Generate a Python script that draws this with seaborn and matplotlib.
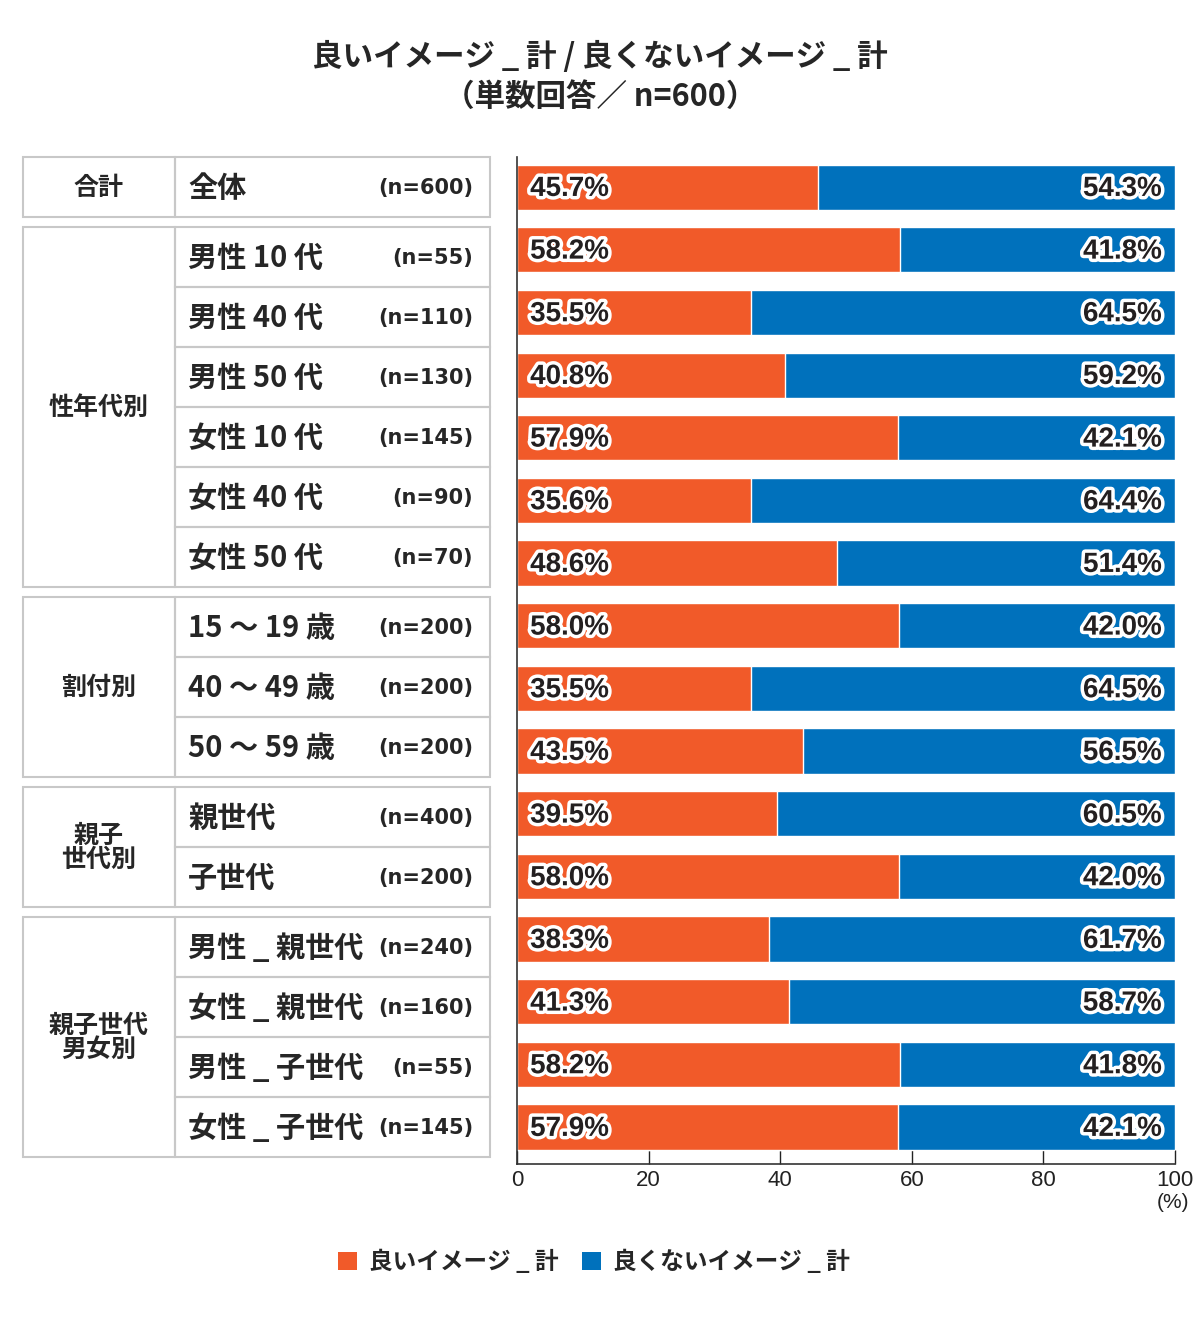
import matplotlib
matplotlib.use('Agg')
import matplotlib.pyplot as plt
import matplotlib.patheffects as pe
from matplotlib.patches import Patch, Rectangle
import seaborn as sns
import pandas as pd

#%% Data
groups = ['合計', '性年代別', '割付別', '親子\n世代別', '親子世代\n男女別']
group_sizes = [1, 6, 3, 2, 4]
items = ['全体', '男性 10 代', '男性 40 代', '男性 50 代', '女性 10 代', '女性 40 代', '女性 50 代',
         '15 ～ 19 歳', '40 ～ 49 歳', '50 ～ 59 歳', '親世代', '子世代',
         '男性 _ 親世代', '女性 _ 親世代', '男性 _ 子世代', '女性 _ 子世代']
n_labels = ['(n=600)', '(n=55)', '(n=110)', '(n=130)', '(n=145)', '(n=90)', '(n=70)',
            '(n=200)', '(n=200)', '(n=200)', '(n=400)', '(n=200)',
            '(n=240)', '(n=160)', '(n=55)', '(n=145)']
good = [45.7, 58.2, 35.5, 40.8, 57.9, 35.6, 48.6, 58.0, 35.5, 43.5, 39.5, 58.0, 38.3, 41.3, 58.2, 57.9]
bad = [54.3, 41.8, 64.5, 59.2, 42.1, 64.4, 51.4, 42.0, 64.5, 56.5, 60.5, 42.0, 61.7, 58.7, 41.8, 42.1]
series = ['良いイメージ _ 計', '良くないイメージ _ 計']
colors = ['#F15A29', '#0071BC']

df = pd.DataFrame({'row': range(len(items)), 'good': good, 'bad': bad})
df['total'] = df['good'] + df['bad']

#%% Style
sns.set_theme(style='white')
plt.rcParams['font.family'] = ['Noto Sans CJK JP', 'DejaVu Sans']
num_font = ['Liberation Sans', 'DejaVu Sans']

W, H = 1200, 1320
fig = plt.figure(figsize=(12, 13.2), dpi=100)

# overlay axes in pixel coordinates for table / title
tab = fig.add_axes([0, 0, 1, 1])
tab.set_xlim(0, W)
tab.set_ylim(H, 0)
tab.axis('off')

tab.text(600, 57, '良いイメージ _ 計 / 良くないイメージ _ 計', ha='center', va='center',
         fontsize=22, fontweight='bold')
tab.text(600, 97, '（単数回答／ n=600）', ha='center', va='center',
         fontsize=22, fontweight='bold')

# table on the left
edge = '#c8c8c8'
y = 157
k = 0
for g, size in zip(groups, group_sizes):
    top = y
    for i in range(size):
        tab.add_patch(Rectangle((175, y), 315, 60, fill=False, ec=edge, lw=1.5))
        tab.text(188, y + 31, items[k], ha='left', va='center', fontsize=21, fontweight='bold')
        tab.text(473, y + 31, n_labels[k], ha='right', va='center', fontsize=15,
                 fontweight='bold', family='DejaVu Sans')
        y += 60
        k += 1
    tab.add_patch(Rectangle((23, top), 152, y - top, fill=False, ec=edge, lw=1.5))
    tab.text(99, (top + y) / 2 + 1, g, ha='center', va='center', fontsize=18,
             fontweight='bold', linespacing=1.0)
    y += 10

#%% Bars
ax = fig.add_axes([517 / W, 1 - 1164 / H, 658 / W, 1007 / H])
ax.patch.set_alpha(0)
sns.barplot(data=df, x='total', y='row', orient='h', color=colors[1], width=0.72,
            saturation=1, ax=ax, order=range(len(items)))
sns.barplot(data=df, x='good', y='row', orient='h', color=colors[0], width=0.72,
            saturation=1, ax=ax, order=range(len(items)))

ax.set_xlim(0, 100)
ax.set_ylim(len(items) - 0.41, -0.48)
ax.set_xticks([0, 20, 40, 60, 80, 100])
ax.set_yticks([])
ax.set_xlabel('')
ax.set_ylabel('')
ax.tick_params(axis='x', direction='in', length=10, width=1, colors='#222222',
               labelsize=16, pad=4, bottom=True)
for lbl in ax.get_xticklabels():
    lbl.set_family(num_font)
for s in ['top', 'right']:
    ax.spines[s].set_visible(False)
for s in ['left', 'bottom']:
    ax.spines[s].set_color('#333333')
    ax.spines[s].set_linewidth(1.2)

outline = [pe.withStroke(linewidth=5, foreground='white')]
for i, (g_val, b_val) in enumerate(zip(good, bad)):
    ax.text(2, i + 0.03, f'{g_val:.1f}%', ha='left', va='center', fontsize=20,
            fontweight='bold', family=num_font, color='#231f20', path_effects=outline)
    ax.text(98, i + 0.03, f'{b_val:.1f}%', ha='right', va='center', fontsize=20,
            fontweight='bold', family=num_font, color='#231f20', path_effects=outline)

tab.text(1173, 1203, '(%)', ha='center', va='center', fontsize=15, color='#222222',
         family=num_font)

#%% Legend
handles = [Patch(facecolor=c, edgecolor='none') for c in colors]
fig.legend(handles, series, loc='center', bbox_to_anchor=(0.495, 1 - 1262 / H), ncol=2,
           frameon=False, handlelength=0.8, handleheight=0.8, handletextpad=0.5,
           columnspacing=1.0, prop={'size': 17, 'weight': 'bold'})

fig.savefig('out.png', dpi=100)
